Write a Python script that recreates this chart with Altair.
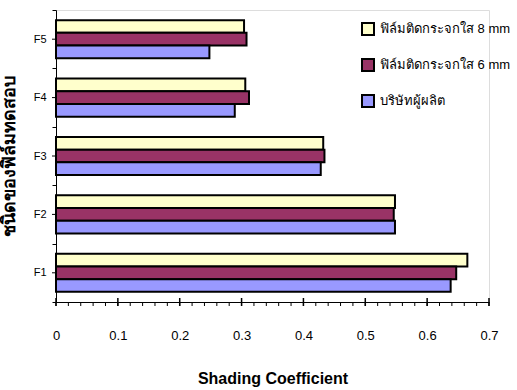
import altair as alt
import pandas as pd

# Film types (top to bottom) and Shading Coefficient readings per series
films = ["F1", "F2", "F3", "F4", "F5"]
series_names = ["ฟิล์มติดกระจกใส 8 mm", "ฟิล์มติดกระจกใส 6 mm", "บริษัทผู้ผลิต"]
sc_8mm = [0.665, 0.548, 0.432, 0.306, 0.304]
sc_6mm = [0.647, 0.546, 0.434, 0.312, 0.308]
sc_maker = [0.638, 0.548, 0.428, 0.289, 0.248]
series_colors = ["#FFFFCC", "#993366", "#9999FF"]
major_ticks = [0.0, 0.1, 0.2, 0.3, 0.4, 0.5, 0.6, 0.7]
minor_ticks = [round(i * 0.02, 2) for i in range(36)]

rows = []
for name, vals in zip(series_names, [sc_8mm, sc_6mm, sc_maker]):
    for f, v in zip(films, vals):
        rows.append({"film": f, "series": name, "sc": v})
df = pd.DataFrame(rows)
centers = pd.DataFrame({"film": films})
majors = pd.DataFrame({"sc": major_ticks})
minors = pd.DataFrame({"sc": minor_ticks})

font = "Liberation Sans"
y_order = list(reversed(films))

x_scale = alt.Scale(domain=[0, 0.7], nice=False)
y_scale = alt.Scale(domain=y_order, paddingInner=0, paddingOuter=0)

bars = alt.Chart(df).mark_bar(stroke="black", strokeWidth=2).encode(
    x=alt.X(
        "sc:Q",
        scale=x_scale,
        axis=alt.Axis(
            title="Shading Coefficient",
            values=major_ticks,
            format=".1~f",
            grid=False,
            ticks=False,
            labelFlush=False,
            domainColor="black",
            labelPadding=27,
            labelFontSize=13,
            labelColor="black",
            labelFont=font,
            titleFont=font,
            titleFontSize=16,
            titleFontWeight="bold",
            titleColor="black",
            titlePadding=28,
        ),
    ),
    y=alt.Y(
        "film:N",
        scale=y_scale,
        sort=y_order,
        axis=alt.Axis(
            title="ชนิดของฟิล์มทดสอบ",
            tickBand="extent",
            tickSize=4,
            tickColor="black",
            domainColor="black",
            labelPadding=6,
            labelFontSize=11,
            labelColor="black",
            labelFont=font,
            titleFontSize=18,
            titleFontWeight="bold",
            titleColor="black",
            titlePadding=15,
        ),
    ),
    yOffset=alt.YOffset(
        "series:N",
        sort=series_names,
        scale=alt.Scale(domain=series_names, paddingInner=0, paddingOuter=0.8),
    ),
    fill=alt.Fill(
        "series:N",
        scale=alt.Scale(domain=series_names, range=series_colors),
        legend=alt.Legend(
            title=None,
            orient="none",
            legendX=305,
            legendY=12,
            symbolType="square",
            symbolSize=144,
            symbolStrokeColor="black",
            symbolStrokeWidth=2,
            symbolOpacity=1,
            labelFontSize=13,
            labelFont=font,
            labelColor="black",
            labelOffset=5,
            rowPadding=16,
            padding=0,
        ),
    ),
)

# Short ticks at the middle of each category band
mid_ticks = alt.Chart(centers).mark_rule(color="black", strokeWidth=1).encode(
    y=alt.Y("film:N", scale=y_scale, sort=y_order),
    x=alt.value(-4),
    x2=alt.value(0),
)

# Minor x ticks below the axis line
minor_rules = alt.Chart(minors).mark_rule(color="black", strokeWidth=1).encode(
    x=alt.X("sc:Q", scale=x_scale),
    y=alt.value(292),
    y2=alt.value(296),
)

# Major x ticks crossing the axis line
major_rules = alt.Chart(majors).mark_rule(color="black", strokeWidth=1.5).encode(
    x=alt.X("sc:Q", scale=x_scale),
    y=alt.value(288),
    y2=alt.value(296),
)

chart = alt.layer(bars, mid_ticks, minor_rules, major_rules).properties(
    width=433,
    height=292,
    autosize=alt.AutoSizeParams(type="none"),
    padding={"left": 56, "top": 10, "right": 28, "bottom": 88},
).configure_view(stroke=None).configure(background="white")

chart.save("out.html", embed_options={"renderer": "svg", "actions": False})
